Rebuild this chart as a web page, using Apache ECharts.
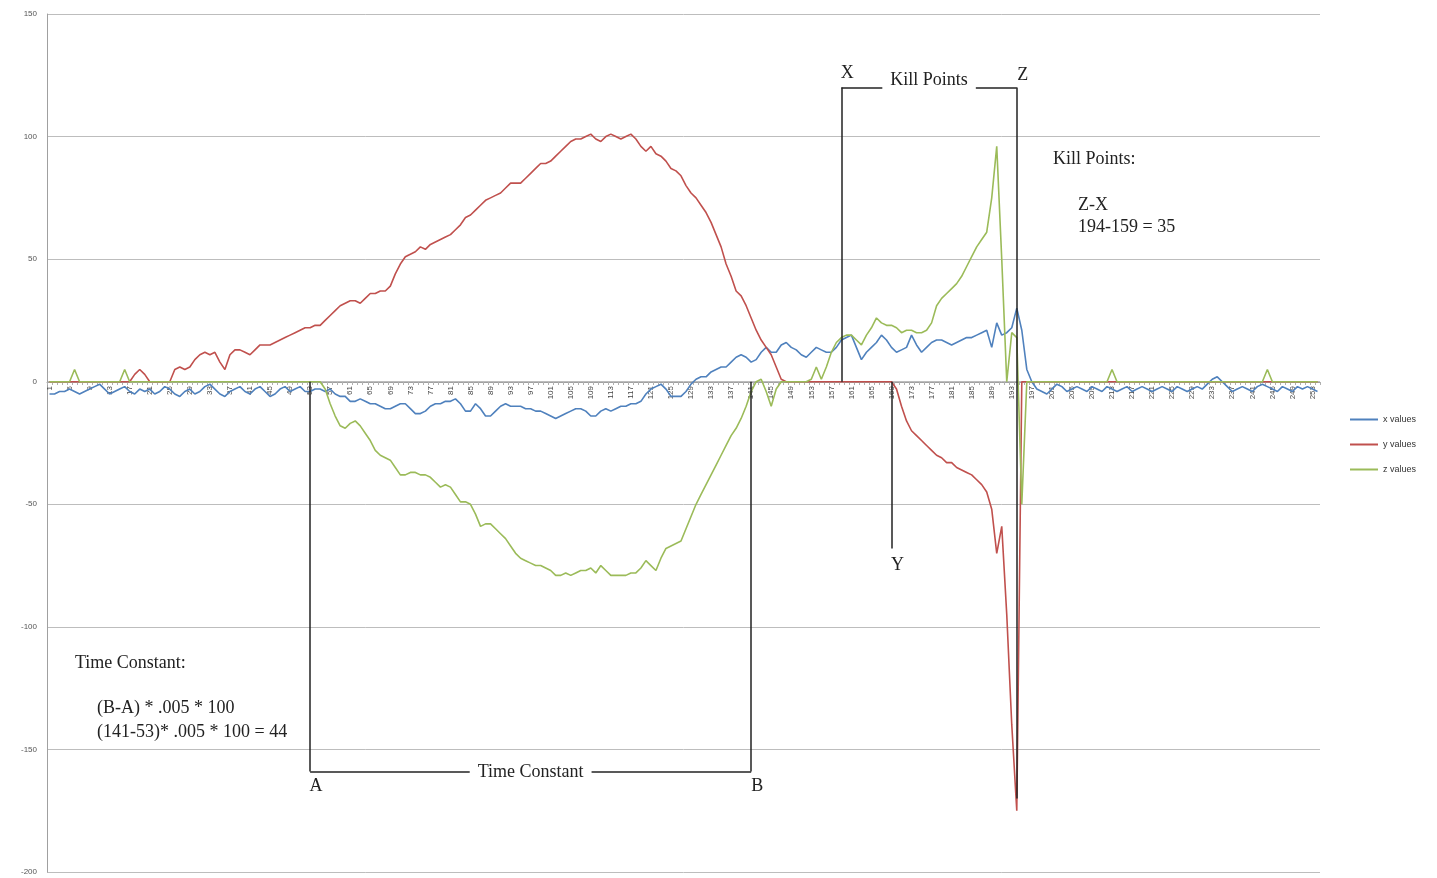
<!DOCTYPE html>
<html>
<head>
<meta charset="utf-8">
<title>x / y / z values</title>
<script src="https://cdn.jsdelivr.net/npm/echarts@6/dist/echarts.min.js"></script>
<style>
html, body { margin: 0; padding: 0; background: #fff; }
#main { width: 1437px; height: 878px; }
</style>
</head>
<body>
<div id="main"></div>
<script>
// sample numbers 1..254 on the category axis
var categories = Array.from({ length: 254 }, function (_, i) { return String(i + 1); });

var xValues = [
  -5, -5, -4, -4, -3, -4, -5, -4, -3, -2,
  -1, -3, -5, -4, -3, -2, -4, -5, -3, -4,
  -3, -5, -4, -2, -3, -5, -6, -4, -3, -5,
  -4, -2, -1, -3, -5, -6, -4, -3, -2, -4,
  -5, -3, -2, -4, -6, -5, -3, -2, -4, -3,
  -2, -4, -4, -3, -3, -4, -3, -5, -6, -6,
  -8, -8, -7, -8, -9, -9, -10, -11, -11, -10,
  -9, -9, -11, -13, -13, -12, -10, -9, -9, -8,
  -8, -7, -9, -12, -12, -9, -11, -14, -14, -12,
  -10, -9, -10, -10, -10, -11, -11, -12, -12, -13,
  -14, -15, -14, -13, -12, -11, -11, -12, -14, -14,
  -12, -11, -12, -11, -10, -10, -9, -9, -8, -5,
  -3, -2, -1, -3, -6, -6, -6, -4, -1, 1,
  2, 2, 4, 5, 6, 6, 8, 10, 11, 10,
  8, 9, 12, 14, 12, 12, 15, 16, 14, 13,
  11, 10, 12, 14, 13, 12, 12, 14, 17, 18,
  19, 14, 9, 12, 14, 16, 19, 17, 14, 12,
  13, 14, 19, 15, 12, 14, 16, 17, 17, 16,
  15, 16, 17, 18, 18, 19, 20, 21, 14, 24,
  19, 20, 22, 30, 21, 5, 0, -3, -4, -5,
  -3, -1, -2, -4, -3, -2, -3, -4, -2, -3,
  -4, -2, -3, -4, -3, -2, -4, -3, -2, -3,
  -4, -3, -2, -3, -4, -2, -3, -4, -3, -2,
  -3, -1, 1, 2, 0, -2, -4, -3, -2, -3,
  -4, -2, -1, -2, -3, -4, -2, -3, -4, -2,
  -3, -2, -3, -4
];

var yValues = [
  0, 0, 0, 0, 0, 0, 0, 0, 0, 0,
  0, 0, 0, 0, 0, 0, 0, 3, 5, 3,
  0, 0, 0, 0, 0, 5, 6, 5, 6, 9,
  11, 12, 11, 12, 8, 5, 11, 13, 13, 12,
  11, 13, 15, 15, 15, 16, 17, 18, 19, 20,
  21, 22, 22, 23, 23, 25, 27, 29, 31, 32,
  33, 33, 32, 34, 36, 36, 37, 37, 39, 44,
  48, 51, 52, 53, 55, 54, 56, 57, 58, 59,
  60, 62, 64, 67, 68, 70, 72, 74, 75, 76,
  77, 79, 81, 81, 81, 83, 85, 87, 89, 89,
  90, 92, 94, 96, 98, 99, 99, 100, 101, 99,
  98, 100, 101, 100, 99, 100, 101, 99, 96, 94,
  96, 93, 92, 90, 87, 86, 84, 80, 77, 75,
  72, 69, 65, 60, 55, 48, 43, 37, 35, 31,
  26, 21, 17, 14, 11, 6, 1, 0, 0, 0,
  0, 0, 0, 0, 0, 0, 0, 0, 0, 0,
  0, 0, 0, 0, 0, 0, 0, 0, 0, -3,
  -10, -16, -20, -22, -24, -26, -28, -30, -31, -33,
  -33, -35, -36, -37, -38, -40, -42, -45, -52, -70,
  -59, -95, -140, -175, 0, 0, 0, 0, 0, 0,
  0, 0, 0, 0, 0, 0, 0, 0, 0, 0,
  0, 0, 0, 0, 0, 0, 0, 0, 0, 0,
  0, 0, 0, 0, 0, 0, 0, 0, 0, 0,
  0, 0, 0, 0, 0, 0, 0, 0, 0, 0,
  0, 0, 0, 0, 0, 0, 0, 0, 0, 0,
  0, 0, 0, 0
];

var zValues = [
  0, 0, 0, 0, 0, 5, 0, 0, 0, 0,
  0, 0, 0, 0, 0, 5, 0, 0, 0, 0,
  0, 0, 0, 0, 0, 0, 0, 0, 0, 0,
  0, 0, 0, 0, 0, 0, 0, 0, 0, 0,
  0, 0, 0, 0, 0, 0, 0, 0, 0, 0,
  0, 0, 0, 0, 0, -3, -9, -14, -18, -19,
  -17, -16, -18, -21, -24, -28, -30, -31, -32, -35,
  -38, -38, -37, -37, -38, -38, -39, -41, -43, -42,
  -43, -46, -49, -49, -50, -54, -59, -58, -58, -60,
  -62, -64, -67, -70, -72, -73, -74, -75, -75, -76,
  -77, -79, -79, -78, -79, -78, -77, -77, -76, -78,
  -75, -77, -79, -79, -79, -79, -78, -78, -76, -73,
  -75, -77, -72, -68, -67, -66, -65, -60, -55, -50,
  -46, -42, -38, -34, -30, -26, -22, -19, -15, -10,
  -4, 0, 1, -4, -10, -3, 0, 0, 0, 0,
  0, 0, 1, 6, 1, 6, 12, 16, 18, 19,
  19, 17, 15, 19, 22, 26, 24, 23, 23, 22,
  20, 21, 21, 20, 20, 21, 24, 31, 34, 36,
  38, 40, 43, 47, 51, 55, 58, 61, 75, 96,
  50, 0, 20, 18, -50, 0, 0, 0, 0, 0,
  0, 0, 0, 0, 0, 0, 0, 0, 0, 0,
  0, 0, 5, 0, 0, 0, 0, 0, 0, 0,
  0, 0, 0, 0, 0, 0, 0, 0, 0, 0,
  0, 0, 0, 0, 0, 0, 0, 0, 0, 0,
  0, 0, 0, 5, 0, 0, 0, 0, 0, 0,
  0, 0, 0, 0
];

var seriesNames = ['x values', 'y values', 'z values'];

// annotation marks (category, value) drawn by hand on the original
var letterMarks = [
  ['A', '53', -165],
  ['B', '141', -165],
  ['X', '159', 126],
  ['Y', '169', -75],
  ['Z', '194', 125]
];
var vLines = [
  ['53', 0, -159],
  ['141', 0, -159],
  ['159', 120, 0],
  ['194', 120, -170],
  ['169', 0, -68]
];

var serif = '"Liberation Serif", "DejaVu Serif", serif';
var textFont = '18px ' + serif;

var chart = echarts.init(document.getElementById('main'));

var markLineData = vLines.map(function (l) {
  return [{ coord: [l[0], l[1]] }, { coord: [l[0], l[2]] }];
});
// bracket A-B and X-Z with a label breaking the line
markLineData.push([
  { coord: ['53', -159], label: { show: true, formatter: 'Time Constant', distance: -10 } },
  { coord: ['141', -159] }
]);
markLineData.push([
  { coord: ['159', 120], label: { show: true, formatter: 'Kill Points', distance: -2 } },
  { coord: ['194', 120] }
]);

var option = {
  animation: false,
  color: ['#4F81BD', '#C0504D', '#9BBB59'],
  grid: { left: 47, right: 117, top: 14, bottom: 6, containLabel: false, outerBoundsMode: 'none' },
  legend: {
    orient: 'vertical',
    left: 1345,
    top: 410,
    icon: 'rect',
    itemWidth: 28,
    itemHeight: 2,
    itemGap: 16,
    textStyle: { fontSize: 9, color: '#333', fontFamily: 'Arial, sans-serif' },
    data: seriesNames
  },
  xAxis: {
    type: 'category',
    data: categories,
    boundaryGap: true,
    position: 'bottom',
    // keep the axis (and its labels) on the zero line
    offset: -490,
    axisLine: { onZero: false, lineStyle: { color: '#a0a0a0' } },
    axisTick: { show: true, interval: 0, length: 3, lineStyle: { color: '#b0b0b0' } },
    axisLabel: { interval: 3, rotate: 90, fontSize: 8, color: '#444', margin: 4 },
    splitLine: { show: false }
  },
  yAxis: {
    type: 'value',
    min: -200,
    max: 150,
    interval: 50,
    axisLine: { show: true, lineStyle: { color: '#a0a0a0' } },
    axisTick: { show: false },
    axisLabel: { fontSize: 8, color: '#555', margin: 10 },
    splitLine: { lineStyle: { color: '#bdbdbd', width: 1 } }
  },
  series: [
    {
      name: seriesNames[0], type: 'line', data: xValues, symbol: 'none',
      lineStyle: { width: 1.6 },
      markLine: {
        silent: true,
        symbol: ['none', 'none'],
        lineStyle: { color: '#222', width: 1.5, type: 'solid' },
        label: {
          show: false, position: 'middle', fontFamily: serif, fontSize: 18,
          color: '#222', backgroundColor: '#fff', padding: [0, 8]
        },
        emphasis: { disabled: true },
        data: markLineData
      },
      markPoint: {
        silent: true,
        symbol: 'rect',
        symbolSize: 1,
        itemStyle: { color: 'rgba(0,0,0,0)' },
        label: { show: true, fontFamily: serif, fontSize: 18, color: '#222' },
        data: letterMarks.map(function (m) {
          return { coord: [m[1], m[2]], label: { formatter: m[0], offset: [6, 0] } };
        })
      }
    },
    { name: seriesNames[1], type: 'line', data: yValues, symbol: 'none', lineStyle: { width: 1.6 } },
    { name: seriesNames[2], type: 'line', data: zValues, symbol: 'none', lineStyle: { width: 1.6 } }
  ],
  graphic: [
    { type: 'text', left: 75, top: 654, style: { text: 'Time Constant:', font: textFont, fill: '#222' } },
    { type: 'text', left: 97, top: 699, style: { text: '(B-A) * .005 * 100', font: textFont, fill: '#222' } },
    { type: 'text', left: 97, top: 723, style: { text: '(141-53)* .005 * 100 = 44', font: textFont, fill: '#222' } },
    { type: 'text', left: 1053, top: 150, style: { text: 'Kill Points:', font: textFont, fill: '#222' } },
    { type: 'text', left: 1078, top: 196, style: { text: 'Z-X', font: textFont, fill: '#222' } },
    { type: 'text', left: 1078, top: 218, style: { text: '194-159 = 35', font: textFont, fill: '#222' } }
  ]
};

chart.setOption(option);
</script>
</body>
</html>
